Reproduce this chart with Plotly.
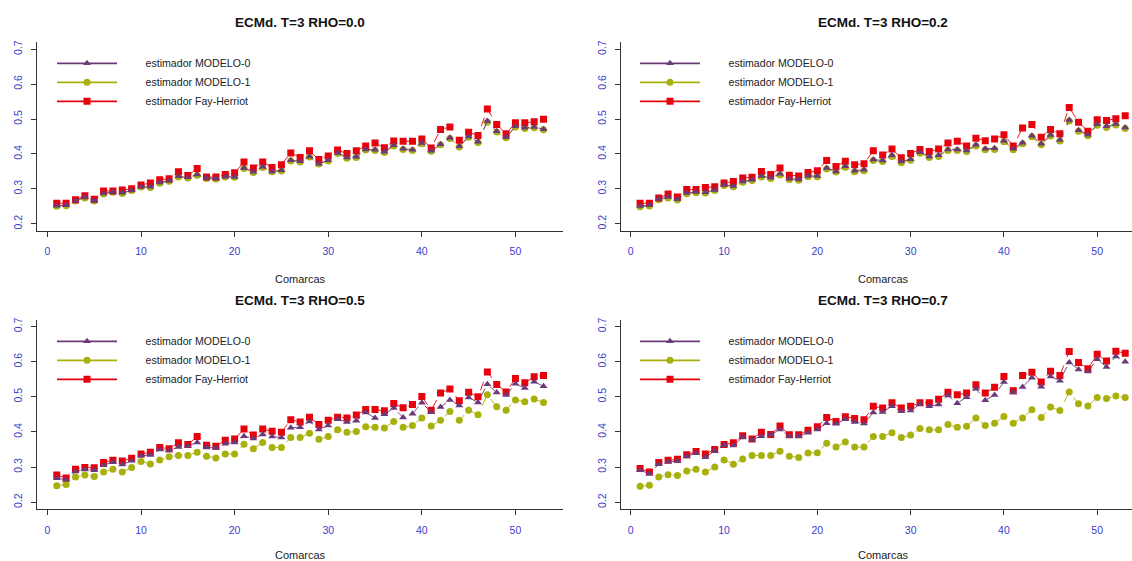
import plotly.graph_objects as go

comarcas = list(range(1, 54))
panel_titles = ["ECMd. T=3 RHO=0.0", "ECMd. T=3 RHO=0.2", "ECMd. T=3 RHO=0.5", "ECMd. T=3 RHO=0.7"]
series_names = ["estimador MODELO-0", "estimador MODELO-1", "estimador Fay-Herriot"]
x_title = "Comarcas"
y_ticks = [0.2, 0.3, 0.4, 0.5, 0.6, 0.7]
x_ticks = [0, 10, 20, 30, 40, 50]

# RHO = 0.0
m0_r00 = [0.252, 0.253, 0.266, 0.276, 0.266, 0.287, 0.291, 0.289, 0.296, 0.306,
          0.306, 0.318, 0.323, 0.336, 0.333, 0.341, 0.331, 0.330, 0.335, 0.334,
          0.360, 0.349, 0.363, 0.350, 0.353, 0.382, 0.379, 0.393, 0.372, 0.382,
          0.403, 0.390, 0.392, 0.413, 0.412, 0.406, 0.425, 0.415, 0.412, 0.431,
          0.409, 0.428, 0.446, 0.422, 0.450, 0.435, 0.494, 0.465, 0.448, 0.479,
          0.475, 0.477, 0.471]
m1_r00 = [0.250, 0.252, 0.265, 0.274, 0.265, 0.285, 0.290, 0.287, 0.295, 0.305,
          0.304, 0.316, 0.322, 0.334, 0.331, 0.339, 0.330, 0.328, 0.334, 0.333,
          0.358, 0.347, 0.361, 0.349, 0.351, 0.380, 0.377, 0.391, 0.371, 0.380,
          0.401, 0.388, 0.390, 0.411, 0.410, 0.404, 0.423, 0.413, 0.410, 0.429,
          0.408, 0.426, 0.444, 0.420, 0.448, 0.433, 0.491, 0.463, 0.446, 0.477,
          0.473, 0.475, 0.469]
fh_r00 = [0.259, 0.259, 0.269, 0.280, 0.270, 0.294, 0.294, 0.297, 0.300, 0.311,
          0.317, 0.326, 0.329, 0.349, 0.338, 0.358, 0.334, 0.334, 0.341, 0.346,
          0.377, 0.360, 0.377, 0.361, 0.369, 0.403, 0.390, 0.409, 0.384, 0.394,
          0.411, 0.401, 0.409, 0.423, 0.431, 0.418, 0.437, 0.436, 0.436, 0.443,
          0.417, 0.470, 0.477, 0.439, 0.462, 0.453, 0.529, 0.484, 0.458, 0.489,
          0.489, 0.492, 0.499]

# RHO = 0.2
m0_r02 = [0.251, 0.253, 0.271, 0.277, 0.270, 0.288, 0.291, 0.290, 0.297, 0.312,
          0.308, 0.321, 0.326, 0.337, 0.332, 0.343, 0.329, 0.327, 0.337, 0.337,
          0.360, 0.350, 0.365, 0.352, 0.355, 0.384, 0.381, 0.396, 0.378, 0.385,
          0.405, 0.393, 0.396, 0.413, 0.413, 0.410, 0.426, 0.415, 0.416, 0.438,
          0.415, 0.432, 0.452, 0.429, 0.454, 0.440, 0.497, 0.468, 0.455, 0.485,
          0.479, 0.486, 0.476]
m1_r02 = [0.249, 0.251, 0.269, 0.274, 0.268, 0.286, 0.289, 0.288, 0.295, 0.310,
          0.306, 0.319, 0.324, 0.334, 0.330, 0.340, 0.327, 0.325, 0.335, 0.335,
          0.357, 0.348, 0.362, 0.349, 0.352, 0.381, 0.378, 0.393, 0.375, 0.382,
          0.402, 0.390, 0.393, 0.410, 0.410, 0.407, 0.423, 0.412, 0.413, 0.435,
          0.412, 0.429, 0.449, 0.426, 0.451, 0.437, 0.494, 0.465, 0.452, 0.482,
          0.476, 0.483, 0.473]
fh_r02 = [0.259, 0.259, 0.274, 0.285, 0.277, 0.298, 0.298, 0.304, 0.306, 0.317,
          0.321, 0.331, 0.333, 0.350, 0.341, 0.360, 0.339, 0.337, 0.347, 0.352,
          0.381, 0.364, 0.379, 0.369, 0.372, 0.409, 0.397, 0.414, 0.389, 0.401,
          0.413, 0.407, 0.414, 0.431, 0.436, 0.423, 0.445, 0.438, 0.443, 0.455,
          0.423, 0.474, 0.484, 0.448, 0.470, 0.458, 0.533, 0.491, 0.465, 0.498,
          0.496, 0.501, 0.509]

# RHO = 0.5
m0_r05 = [0.268, 0.264, 0.287, 0.293, 0.291, 0.305, 0.314, 0.307, 0.318, 0.332,
          0.334, 0.350, 0.347, 0.357, 0.360, 0.370, 0.356, 0.354, 0.366, 0.370,
          0.388, 0.381, 0.393, 0.387, 0.384, 0.412, 0.413, 0.430, 0.407, 0.418,
          0.436, 0.428, 0.432, 0.455, 0.440, 0.450, 0.468, 0.441, 0.452, 0.483,
          0.456, 0.471, 0.491, 0.475, 0.498, 0.484, 0.536, 0.512, 0.505, 0.537,
          0.525, 0.543, 0.530]
m1_r05 = [0.247, 0.250, 0.272, 0.277, 0.273, 0.286, 0.294, 0.286, 0.299, 0.316,
          0.309, 0.320, 0.329, 0.333, 0.333, 0.342, 0.331, 0.326, 0.337, 0.337,
          0.365, 0.352, 0.370, 0.356, 0.356, 0.384, 0.384, 0.396, 0.379, 0.387,
          0.406, 0.399, 0.401, 0.415, 0.413, 0.411, 0.430, 0.413, 0.418, 0.440,
          0.417, 0.433, 0.458, 0.433, 0.462, 0.449, 0.506, 0.472, 0.462, 0.491,
          0.486, 0.494, 0.484]
fh_r05 = [0.277, 0.269, 0.294, 0.299, 0.298, 0.313, 0.319, 0.317, 0.325, 0.337,
          0.342, 0.356, 0.352, 0.369, 0.364, 0.387, 0.362, 0.359, 0.376, 0.380,
          0.408, 0.391, 0.408, 0.402, 0.399, 0.435, 0.428, 0.442, 0.421, 0.433,
          0.442, 0.440, 0.448, 0.464, 0.464, 0.460, 0.481, 0.469, 0.478, 0.501,
          0.462, 0.511, 0.522, 0.489, 0.513, 0.500, 0.571, 0.535, 0.514, 0.552,
          0.540, 0.557, 0.561]

# RHO = 0.7
m0_r07 = [0.291, 0.281, 0.308, 0.315, 0.317, 0.330, 0.340, 0.328, 0.346, 0.362,
          0.361, 0.385, 0.378, 0.388, 0.392, 0.407, 0.388, 0.388, 0.398, 0.407,
          0.425, 0.423, 0.436, 0.428, 0.424, 0.455, 0.457, 0.473, 0.459, 0.461,
          0.479, 0.473, 0.478, 0.504, 0.482, 0.499, 0.523, 0.490, 0.505, 0.542,
          0.512, 0.528, 0.554, 0.529, 0.558, 0.546, 0.598, 0.578, 0.572, 0.607,
          0.585, 0.615, 0.600]
m1_r07 = [0.245, 0.248, 0.272, 0.278, 0.276, 0.289, 0.294, 0.286, 0.300, 0.320,
          0.308, 0.323, 0.333, 0.333, 0.333, 0.345, 0.331, 0.327, 0.340, 0.341,
          0.368, 0.357, 0.371, 0.357, 0.357, 0.387, 0.387, 0.398, 0.384, 0.391,
          0.410, 0.406, 0.406, 0.421, 0.413, 0.416, 0.440, 0.418, 0.425, 0.444,
          0.425, 0.440, 0.463, 0.441, 0.471, 0.461, 0.514, 0.480, 0.474, 0.498,
          0.495, 0.502, 0.498]
fh_r07 = [0.296, 0.286, 0.313, 0.319, 0.322, 0.335, 0.344, 0.337, 0.350, 0.364,
          0.369, 0.389, 0.380, 0.399, 0.393, 0.417, 0.392, 0.392, 0.405, 0.415,
          0.441, 0.430, 0.443, 0.438, 0.435, 0.473, 0.468, 0.483, 0.468, 0.473,
          0.483, 0.483, 0.493, 0.513, 0.506, 0.511, 0.534, 0.511, 0.527, 0.558,
          0.517, 0.561, 0.570, 0.542, 0.573, 0.561, 0.629, 0.598, 0.580, 0.621,
          0.602, 0.630, 0.624]

panels = [(m0_r00, m1_r00, fh_r00), (m0_r02, m1_r02, fh_r02),
          (m0_r05, m1_r05, fh_r05), (m0_r07, m1_r07, fh_r07)]

colors = ["#6B3A78", "#A8B10C", "#E8000B"]
symbols = ["triangle-up", "circle", "square"]
msizes = [7, 7, 7]
draw_order = [1, 2, 0]  # olive, red, purple on top

W, H = 1132, 561
FONT = "Liberation Sans, Arial, sans-serif"
TICK_COLOR = "#3C3CC8"

# plot areas in pixels (left, right, top, bottom)
areas = [(37.3, 563.0, 40.3, 229.6), (620.7, 1132.0, 40.3, 229.6),
         (37.3, 563.0, 318.7, 509.0), (620.7, 1132.0, 318.7, 509.0)]
xranges = [[-1.08, 55.08], [-1.08, 53.73], [-1.08, 55.08], [-1.08, 53.73]]
title_cx = [300.0, 883.0, 300.0, 883.0]
title_y = [21.0, 21.0, 300.0, 300.0]
xlab_y = [278.0, 278.0, 555.0, 555.0]
legend_pos = [(52.0, 47.0), (635.0, 47.0), (52.0, 326.0), (635.0, 326.0)]

pad = "\u00a0" * 8

fig = go.Figure()
annotations = []
for p in range(4):
    sfx = "" if p == 0 else str(p + 1)
    leg = "legend" if p == 0 else "legend" + str(p + 1)
    for s in draw_order:
        fig.add_trace(go.Scatter(
            x=comarcas, y=panels[p][s], mode="lines+markers",
            name=series_names[s], showlegend=False,
            line=dict(color=colors[s], width=0.9, dash="dash"),
            marker=dict(color=colors[s], symbol=symbols[s], size=msizes[s]),
            xaxis="x" + sfx, yaxis="y" + sfx,
            hoverinfo="x+y",
        ))
    # legend entries (solid line with marker, as in the original legend)
    for s in range(3):
        fig.add_trace(go.Scatter(
            x=[None], y=[None], mode="lines+markers",
            name=pad + series_names[s], showlegend=True,
            line=dict(color=colors[s], width=1.6),
            marker=dict(color=colors[s], symbol=symbols[s], size=msizes[s]),
            xaxis="x" + sfx, yaxis="y" + sfx, legend=leg, legendrank=s + 1,
        ))
    l, r, t, b = areas[p]
    axis_common = dict(showline=True, linecolor="#333333", linewidth=1,
                       ticks="outside", ticklen=5, tickcolor="#333333",
                       showgrid=False, zeroline=False, mirror=False,
                       tickfont=dict(family=FONT, size=10.5, color=TICK_COLOR))
    fig.update_layout(**{
        "xaxis" + sfx: dict(domain=[l / W, r / W], range=xranges[p],
                            tickvals=x_ticks, anchor="y" + sfx,
                            ticklabelstandoff=6, **axis_common),
        "yaxis" + sfx: dict(domain=[1 - b / H, 1 - t / H], range=[0.18, 0.72],
                            tickvals=y_ticks, ticktext=[f"{v:.1f}" for v in y_ticks],
                            tickangle=-90, anchor="x" + sfx,
                            ticklabelstandoff=5, **axis_common),
        leg: dict(x=legend_pos[p][0] / W, y=1 - legend_pos[p][1] / H,
                  xanchor="left", yanchor="top", bgcolor="rgba(0,0,0,0)",
                  borderwidth=0, itemwidth=60, tracegroupgap=0,
                  font=dict(family=FONT, size=10.6, color="#222222")),
    })
    annotations.append(dict(text="<b>" + panel_titles[p] + "</b>", x=title_cx[p] / W,
                            y=1 - title_y[p] / H, xref="paper", yref="paper",
                            showarrow=False, xanchor="center", yanchor="middle",
                            font=dict(family=FONT, size=13.5, color="#111111")))
    annotations.append(dict(text=x_title, x=((l + (l + 526)) / 2) / W,
                            y=1 - xlab_y[p] / H, xref="paper", yref="paper",
                            showarrow=False, xanchor="center", yanchor="middle",
                            font=dict(family=FONT, size=11, color="#222222")))

fig.update_layout(width=W, height=H, margin=dict(l=0, r=0, t=0, b=0),
                  paper_bgcolor="white", plot_bgcolor="white",
                  annotations=annotations, showlegend=True,
                  font=dict(family=FONT))
fig.write_html("out.html", config={"displayModeBar": False},
               post_script="document.body.style.margin='0';document.body.style.overflow='hidden';")
